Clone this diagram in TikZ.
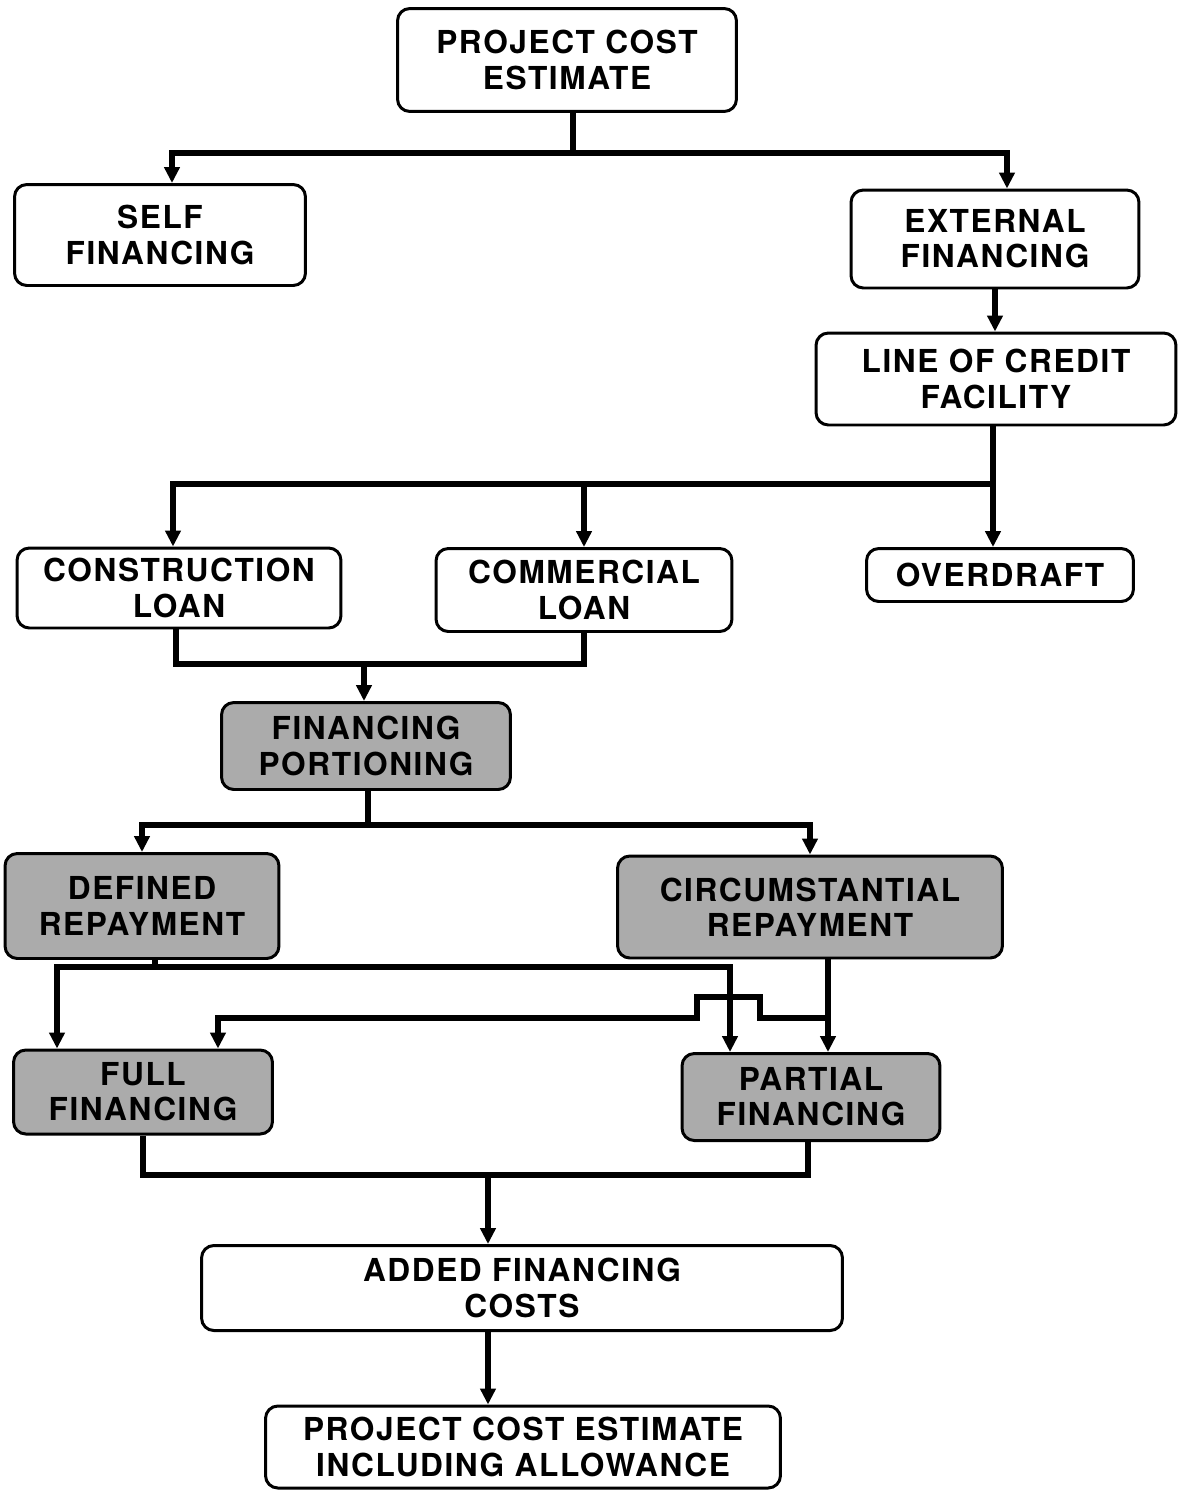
\documentclass[tikz,border=0pt]{standalone}
\usepackage{fontspec}
\setmainfont{TeX Gyre Heros}[LetterSpace=5]
\usetikzlibrary{arrows.meta}
\tikzset{
  box/.style={draw, line width=1.7pt, rounded corners=7pt, align=center, inner sep=0pt,
    font=\bfseries\fontsize{18}{20}\selectfont},
  greybox/.style={box, fill=black!33},
  link/.style={line width=3pt},
  arr/.style={link, -{Triangle[length=9pt,width=8.5pt]}}
}

\begin{document}
\begin{tikzpicture}[x=0.02cm, y=-0.02cm]
		%%%%% START %%%%%
		\useasboundingbox (0, 0) rectangle (1184, 1491);
		
		\node[box, minimum width=6.78cm, minimum height=2.06cm] (pce) at (567, 60) {PROJECT COST\\ESTIMATE};
		\node[box, minimum width=5.82cm, minimum height=2.02cm] (self) at (160, 235) {SELF\\FINANCING};
		\node[box, minimum width=5.76cm, minimum height=1.96cm] (ext) at (995, 239) {EXTERNAL\\FINANCING};
		\node[box, minimum width=7.2cm, minimum height=1.84cm] (loc) at (996, 379) {LINE OF CREDIT\\FACILITY};
		
		\node[box, minimum width=6.48cm, minimum height=1.6cm] (cons) at (179, 588) {CONSTRUCTION\\LOAN};
		\node[box, minimum width=5.92cm, minimum height=1.66cm] (comm) at (584, 590) {COMMERCIAL\\LOAN};
		\node[box, minimum width=5.34cm, minimum height=1.06cm] (over) at (1000, 575) {OVERDRAFT};
		
		\node[greybox, minimum width=5.78cm, minimum height=1.74cm] (port) at (366, 746) {FINANCING\\PORTIONING};
		\node[greybox, minimum width=5.48cm, minimum height=2.1cm] (defr) at (142, 906) {DEFINED\\REPAYMENT};
		\node[greybox, minimum width=7.7cm, minimum height=2.04cm] (circ) at (810, 907) {CIRCUMSTANTIAL\\REPAYMENT};
		\node[greybox, minimum width=5.18cm, minimum height=1.68cm] (full) at (143, 1092) {FULL\\FINANCING};
		\node[greybox, minimum width=5.16cm, minimum height=1.74cm] (part) at (811, 1097) {PARTIAL\\FINANCING};
		
		\node[box, minimum width=12.82cm, minimum height=1.7cm] (add) at (522, 1288) {ADDED FINANCING\\COSTS};
		\node[box, minimum width=10.3cm, minimum height=1.64cm] (final) at (523, 1447) {PROJECT COST ESTIMATE\\INCLUDING ALLOWANCE};
		
		% split points
		\coordinate (b1) at (573, 153);
		\coordinate (b2) at (993, 484);
		\coordinate (b3) at (364, 664);
		\coordinate (b4) at (368, 825);
		\coordinate (b5) at (155, 967);
		\coordinate (c1) at (828, 1018);
		\coordinate (b6) at (488, 1175);
		
		\draw[link] (pce.south -| b1) -- (b1);
		\draw[arr] (b1) -| ([xshift=0.24cm]self.north);
		\draw[arr] (b1) -| ([xshift=0.24cm]ext.north);
		\draw[arr] (ext.south) -- (loc.north -| ext.south);
		
		\draw[link] (loc.south -| b2) -- (b2);
		\draw[arr] (b2) -| ([xshift=-0.12cm]cons.north);
		\draw[arr] (b2) -| (comm.north);
		\draw[arr] (b2) -- (over.north -| b2);
		
		\draw[link] ([xshift=-0.06cm]cons.south) |- (b3) -| (comm.south);
		\draw[arr] (b3) -- (port.north -| b3);
		
		\draw[link] (port.south -| b4) -- (b4);
		\draw[arr] (b4) -| (defr.north);
		\draw[arr] (b4) -| (circ.north);
		
		\draw[link] (defr.south -| b5) -- (b5);
		\draw[arr] (b5) -| ([xshift=-1.72cm]full.north);
		\draw[arr] (b5) -| ([xshift=-1.62cm]part.north);
		
		\draw[arr] (circ.south -| c1) -- (part.north -| c1);
		\draw[arr] (c1) -- ++(-68, 0) -- ++(0, -21) -- ++(-63, 0) -- ++(0, 21) -| ([xshift=1.5cm]full.north);
		
		\draw[link] (full.south) |- (b6) -| ([xshift=-0.06cm]part.south);
		\draw[arr] (b6) -- (add.north -| b6);
		\draw[arr] (add.south -| b6) -- (final.north -| b6);
		
		%%%%% END %%%%%
	\end{tikzpicture}
\end{document}
